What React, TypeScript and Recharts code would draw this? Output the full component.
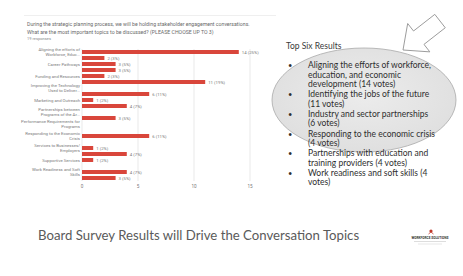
import React from 'react';
import { BarChart, Bar, XAxis, YAxis, CartesianGrid, LabelList } from 'recharts';

const categories = [
  'Aligning the Efforts of Workforce, Education, and Economic Development',
  'Building Career Awareness',
  'Career Pathways',
  'Communication and Collaboration',
  'Funding and Resources',
  'Identifying the Jobs of the Future',
  'Improving the Technology Used to Deliver Services',
  'Industry and Sector Partnerships',
  'Marketing and Outreach',
  'Partnerships with Education and Training Providers',
  'Partnerships between Programs of the Area',
  'Performance Measures',
  'Performance Requirements for Programs',
  'Policy and Governance',
  'Responding to the Economic Crisis',
  'Serving Special Populations',
  'Services to Businesses/Employers',
  'Sector Strategies',
  'Supportive Services',
  'Technology and Data',
  'Work Readiness and Soft Skills',
  'Youth Services',
];

const tickLabels = [
  'Aligning the efforts of|Workforce, Educ...',
  'Building Career Awareness',
  'Career Pathways',
  'Communication and|Collaboration',
  'Funding and Resources',
  'Identifying the Jobs of|the Future',
  'Improving the Technology|Used to Deliver...',
  'Industry and Sector|Partnerships',
  'Marketing and Outreach',
  'Partnerships with|Education and...',
  'Partnerships between|Programs of the Ar...',
  'Performance Measures',
  'Performance Requirements for|Programs',
  'Policy and Governance',
  'Responding to the Economic|Crisis',
  'Serving Special Populations',
  'Services to Businesses/|Employers',
  'Sector Strategies',
  'Supportive Services',
  'Technology and Data',
  'Work Readiness and Soft|Skills',
  'Youth Services',
];

const votes = [14, 2, 3, 3, 2, 11, 0, 6, 1, 4, 0, 3, 0, 0, 6, 0, 1, 4, 1, 0, 4, 3];
const percents = [25, 3, 5, 5, 3, 19, 0, 11, 2, 7, 0, 5, 0, 0, 11, 0, 2, 7, 2, 0, 7, 5];

const xTicks = [0, 5, 10, 15];

const questionLines = [
  'During the strategic planning process, we will be holding stakeholder engagement conversations.',
  'What are the most important topics to be discussed? (PLEASE CHOOSE UP TO 3)',
];
const responsesText = '19 responses';

const topSixTitle = 'Top Six Results';
const topSixItems = [
  ['Aligning the efforts of workforce,', 'education, and economic', 'development (14 votes)'],
  ['Identifying the jobs of the future', '(11 votes)'],
  ['Industry and sector partnerships', '(6 votes)'],
  ['Responding to the economic crisis', '(4 votes)'],
  ['Partnerships with education and', 'training providers (4 votes)'],
  ['Work readiness and soft skills (4', 'votes)'],
];

const slideTitle = 'Board Survey Results will Drive the Conversation Topics';

const data = categories.map((name, i) => ({
  name,
  value: votes[i],
  label: `${votes[i]} (${percents[i]}%)`,
}));

const tickMap: Record<string, string[]> = {};
categories.forEach((c, i) => {
  tickMap[c] = tickLabels[i].split('|');
});

const YTick = (props: any) => {
  const { x, y, payload } = props;
  const lines = tickMap[payload.value] || [payload.value];
  const lh = 4.6;
  const start = y - ((lines.length - 1) * lh) / 2;
  return (
    <text x={x} y={start} textAnchor="end" fontSize={4.3} fill="#7a7a7a" fontFamily="Roboto">
      {lines.map((l: string, i: number) => (
        <tspan key={i} x={x} dy={i === 0 ? '0.35em' : lh}>
          {l}
        </tspan>
      ))}
    </text>
  );
};

const ValueLabel = (props: any) => {
  const { x, y, width, height, value } = props;
  return (
    <text x={x + width + 3} y={y + height / 2} dy="0.35em" fontSize={4.3} fill="#7a7a7a" fontFamily="Roboto">
      {value}
    </text>
  );
};

export default function App() {
  return (
    <div style={{ position: 'absolute', left: 0, top: 0, width: 463, height: 276, background: '#fff', overflow: 'hidden' }}>
      <div style={{ position: 'absolute', left: 24, top: 15, width: 252, height: 1, background: '#efefef' }} />
      {questionLines.map((t, i) => (
        <div
          key={i}
          style={{
            position: 'absolute', left: 27, top: 22.4 + i * 8, fontFamily: 'Roboto', fontSize: 5.2, lineHeight: '5.2px',
            color: '#6a6a6a', whiteSpace: 'nowrap',
          }}
        >
          {t}
        </div>
      ))}
      <div style={{ position: 'absolute', left: 27, top: 36.5, fontFamily: 'Roboto', fontSize: 4, lineHeight: '4px', color: '#8a8a8a', whiteSpace: 'nowrap' }}>
        {responsesText}
      </div>

      <div style={{ position: 'absolute', left: 0, top: 40 }}>
        <BarChart
          width={270}
          height={155}
          data={data}
          layout="vertical"
          margin={{ top: 9, right: 20, bottom: 0, left: 0 }}
          barCategoryGap={1}
        >
          <CartesianGrid horizontal={false} stroke="#e9e9e9" />
          <XAxis
            type="number"
            domain={[0, 15]}
            ticks={xTicks}
            height={14}
            tickLine={false}
            axisLine={false}
            tickSize={0}
            tickMargin={4}
            tick={{ fontSize: 4.6, fill: '#7a7a7a', fontFamily: 'Roboto' }}
          />
          <YAxis
            type="category"
            dataKey="name"
            width={82}
            interval={1}
            tickLine={false}
            axisLine={false}
            tickSize={0}
            tickMargin={2}
            tick={<YTick />}
          />
          <Bar dataKey="value" fill="#d9463b" barSize={4} isAnimationActive={false}>
            <LabelList dataKey="label" content={<ValueLabel />} />
          </Bar>
        </BarChart>
      </div>

      <svg width={463} height={276} style={{ position: 'absolute', left: 0, top: 0 }}>
        <defs>
          <radialGradient id="ellg" cx="50%" cy="45%" r="60%">
            <stop offset="0%" stopColor="#ececec" />
            <stop offset="100%" stopColor="#dedede" />
          </radialGradient>
        </defs>
        <ellipse cx={364} cy={100} rx={92} ry={52} fill="url(#ellg)" stroke="#a9a9a9" strokeWidth={0.8} />
        <g transform="translate(403,50) rotate(52)">
          <polygon
            points="0,0 18,-20 8.5,-20 8.5,-47 -8.5,-47 -8.5,-20 -18,-20"
            fill="#fff"
            stroke="#9a9a9a"
            strokeWidth={0.9}
            strokeLinejoin="round"
          />
        </g>
      </svg>

      <div style={{ position: 'absolute', left: 286, top: 41, fontFamily: 'Lato', fontSize: 8.5, lineHeight: '10px', color: '#3a3a3a', whiteSpace: 'nowrap' }}>
        {topSixTitle}
      </div>
      <div style={{ position: 'absolute', left: 286, top: 61.3, fontFamily: 'Lato', fontSize: 8.5, color: '#2e2e2e' }}>
        {topSixItems.map((item, i) => (
          <div key={i} style={{ position: 'relative', marginTop: i === 0 ? 0 : 0.6 }}>
            <div style={{ position: 'absolute', left: 2, top: 0, fontSize: 7.5, lineHeight: '9.5px' }}>•</div>
            {item.map((l, j) => (
              <div key={j} style={{ paddingLeft: 22, lineHeight: '9.5px', height: 9.5, whiteSpace: 'nowrap' }}>
                {l}
              </div>
            ))}
          </div>
        ))}
      </div>

      <div style={{ position: 'absolute', left: 38, top: 227, fontFamily: 'Lato', fontSize: 13.2, lineHeight: '16px', color: '#5a5a5a', whiteSpace: 'nowrap' }}>
        {slideTitle}
      </div>

      <svg width={60} height={24} style={{ position: 'absolute', left: 400, top: 226 }}>
        <circle cx={31} cy={5} r={1.6} fill="#c0392b" />
        <path d="M28.5,8 L31,6 L33.5,8" stroke="#c0392b" strokeWidth={0.8} fill="none" />
        <text x={30} y={12.5} textAnchor="middle" fontSize={3.2} fontFamily="Roboto" fontWeight={700} fill="#333">
          WORKFORCE SOLUTIONS
        </text>
        <line x1={14} y1={15.5} x2={46} y2={15.5} stroke="#bbb" strokeWidth={0.5} />
        <line x1={18} y1={18} x2={42} y2={18} stroke="#ccc" strokeWidth={0.5} />
      </svg>
    </div>
  );
}
